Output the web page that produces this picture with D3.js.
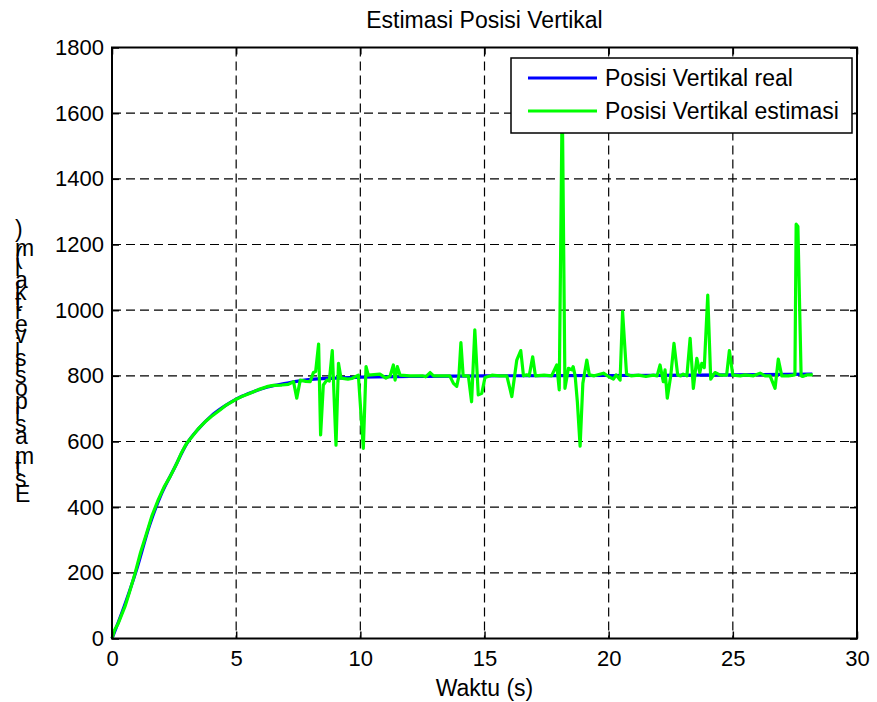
<!DOCTYPE html>
<html><head><meta charset="utf-8">
<script src="https://cdn.jsdelivr.net/npm/d3@7"></script>
<style>body{margin:0;background:#fff}svg{display:block}</style>
</head><body>
<svg id="chart" width="877" height="702"></svg>
<script>
const titleText = "Estimasi Posisi Vertikal";
const xLabelText = "Waktu (s)";
const yLabelText = "Estimasi posisi vertikal (m)";
const seriesNames = ["Posisi Vertikal real", "Posisi Vertikal estimasi"];
const xTicks = [0, 5, 10, 15, 20, 25, 30];
const yTicks = [0, 200, 400, 600, 800, 1000, 1200, 1400, 1600, 1800];

const realT = [0,0.5,1,1.5,2,2.5,3,3.5,4,4.5,5,5.5,6,6.5,7,7.5,8,9,10,12,15,20,25,28.2];
const realV = [0,100,212,342,442,517,592,640,678,706,729,746,760,770,777,784,789,793,796,798,800,801,803,805];

const estT = [0,0.1,0.25,0.52,0.7,0.93,1.15,1.39,1.6,1.86,2.1,2.34,2.6,2.8,3.01,3.3,3.5,3.75,4.0,4.35,4.6,4.96,5.2,5.56,5.9,6.23,6.5,6.84,7.1,7.31,7.44,7.58,7.8,7.98,8.11,8.2,8.32,8.4,8.51,8.65,8.75,8.87,9.02,9.12,9.22,9.5,9.66,9.92,10.12,10.23,10.32,10.79,11.03,11.2,11.33,11.4,11.49,11.6,12.0,12.5,12.63,12.81,12.95,13.6,13.75,13.88,13.97,14.05,14.14,14.35,14.48,14.61,14.75,14.89,15.02,15.3,15.6,15.9,16.1,16.3,16.46,16.57,16.7,16.8,16.94,17.05,17.4,17.7,17.91,18.01,18.13,18.24,18.38,18.52,18.57,18.65,18.74,18.85,18.96,19.12,19.22,19.42,19.79,19.95,20.19,20.3,20.46,20.56,20.72,20.9,21.2,21.5,21.8,21.95,22.07,22.2,22.27,22.36,22.5,22.63,22.78,22.9,23.0,23.15,23.28,23.41,23.55,23.67,23.75,23.85,23.99,24.11,24.28,24.5,24.75,24.86,25.0,25.3,25.5,25.83,26.1,26.3,26.5,26.7,26.83,26.97,27.24,27.5,27.55,27.62,27.75,27.81,28.0,28.22];
const estV = [0,25,46,97,140,199,262,320,372,422,462,493,532,566,595,622,641,660,676,696,711,727,736,747,758,767,771,772,774,782,732,787,783,782,810,813,897,620,772,787,784,877,589,838,793,790,792,802,579,828,802,805,793,800,833,787,828,802,800,800,797,810,800,800,777,768,800,901,800,800,721,940,742,747,795,802,800,800,737,848,877,800,803,800,858,800,802,800,833,757,1660,762,823,818,828,800,720,586,777,848,803,800,808,800,790,803,787,996,805,800,802,798,802,800,833,782,818,732,800,899,802,800,805,800,914,762,853,810,838,825,1046,790,810,802,802,877,802,800,803,800,808,800,800,762,851,800,800,803,1262,1255,800,798,803,803];

const svg = d3.select("#chart");
const m = {left:112, right:857, top:47.5, bottom:638.5};
const FS = 23;
const TFS = 22;
const font = "'Liberation Sans', Arial, Helvetica, sans-serif";

const x = d3.scaleLinear().domain([0,30]).range([m.left, m.right]);
const y = d3.scaleLinear().domain([0,1800]).range([m.bottom, m.top]);

// grid
const grid = svg.append("g");
grid.selectAll("line.gx").data(xTicks.filter(d => d>0 && d<30)).enter().append("line")
  .attr("x1", d=>x(d)).attr("x2", d=>x(d)).attr("y1", m.top).attr("y2", m.bottom)
  .attr("stroke","#000").attr("stroke-width",1.2).attr("stroke-dasharray","9,5");
grid.selectAll("line.gy").data(yTicks.filter(d => d>0 && d<1800)).enter().append("line")
  .attr("y1", d=>y(d)).attr("y2", d=>y(d)).attr("x1", m.left).attr("x2", m.right)
  .attr("stroke","#000").attr("stroke-width",1.2).attr("stroke-dasharray","9,5");

// lines
const realData = realT.map((t,i)=>[t, realV[i]]);
const estData = estT.map((t,i)=>[t, estV[i]]);
const line = d3.line().x(d=>x(d[0])).y(d=>y(d[1])).curve(d3.curveMonotoneX);
const lineL = d3.line().x(d=>x(d[0])).y(d=>y(d[1]));
svg.append("path").datum(realData).attr("d", line).attr("fill","none")
  .attr("stroke","#0000ff").attr("stroke-width",3.2);
svg.append("path").datum(estData).attr("d", lineL).attr("fill","none")
  .attr("stroke","#00ff00").attr("stroke-width",3.2).attr("stroke-linejoin","round");

// axes
const TL = 7;
const axB = svg.append("g").attr("transform", `translate(0,${m.bottom})`)
  .call(d3.axisBottom(x).tickValues(xTicks).tickSize(-TL).tickPadding(12).tickFormat(d3.format("d")));
const axT = svg.append("g").attr("transform", `translate(0,${m.top})`)
  .call(d3.axisTop(x).tickValues(xTicks).tickSize(-TL).tickFormat(""));
const axL = svg.append("g").attr("transform", `translate(${m.left},0)`)
  .call(d3.axisLeft(y).tickValues(yTicks).tickSize(-TL).tickPadding(8).tickFormat(d3.format("d")));
const axR = svg.append("g").attr("transform", `translate(${m.right},0)`)
  .call(d3.axisRight(y).tickValues(yTicks).tickSize(-TL).tickFormat(""));
[axB, axT, axL, axR].forEach(a => {
  a.select(".domain").remove();
  a.selectAll(".tick line").attr("stroke","#000").attr("stroke-width",1.5);
  a.selectAll("text").attr("font-family", font).attr("font-size", TFS).attr("fill","#000");
});
axB.selectAll("text").attr("dy", "0.71em");
svg.append("rect").attr("x", m.left).attr("y", m.top).attr("width", m.right-m.left)
  .attr("height", m.bottom-m.top).attr("fill","none").attr("stroke","#000").attr("stroke-width",2);

// title & labels
svg.append("text").attr("x", (m.left+m.right)/2).attr("y", 28).attr("text-anchor","middle")
  .attr("font-family", font).attr("font-size", FS).text(titleText);
svg.append("text").attr("x", (m.left+m.right)/2).attr("y", 696).attr("text-anchor","middle")
  .attr("font-family", font).attr("font-size", FS).text(xLabelText);
// y label: rotated baseline with upright glyphs (as in the reference)
const chars = Array.from(yLabelText);
svg.append("text").attr("transform", "translate(15,502) rotate(-90)")
  .attr("font-family", font).attr("font-size", FS)
  .attr("rotate", chars.map(()=>90).join(" ")).text(yLabelText);

// legend
const lg = svg.append("g");
lg.append("rect").attr("x", 511).attr("y", 58).attr("width", 341).attr("height", 75)
  .attr("fill","#fff").attr("stroke","#000").attr("stroke-width",1.5);
const colors = ["#0000ff", "#00ff00"];
seriesNames.forEach((s,i) => {
  const yy = 78 + i*33;
  lg.append("line").attr("x1", 528).attr("x2", 597).attr("y1", yy).attr("y2", yy)
    .attr("stroke", colors[i]).attr("stroke-width", 3.2);
  lg.append("text").attr("x", 605).attr("y", yy + 8).attr("font-family", font)
    .attr("font-size", FS).text(s);
});
</script>
</body></html>
